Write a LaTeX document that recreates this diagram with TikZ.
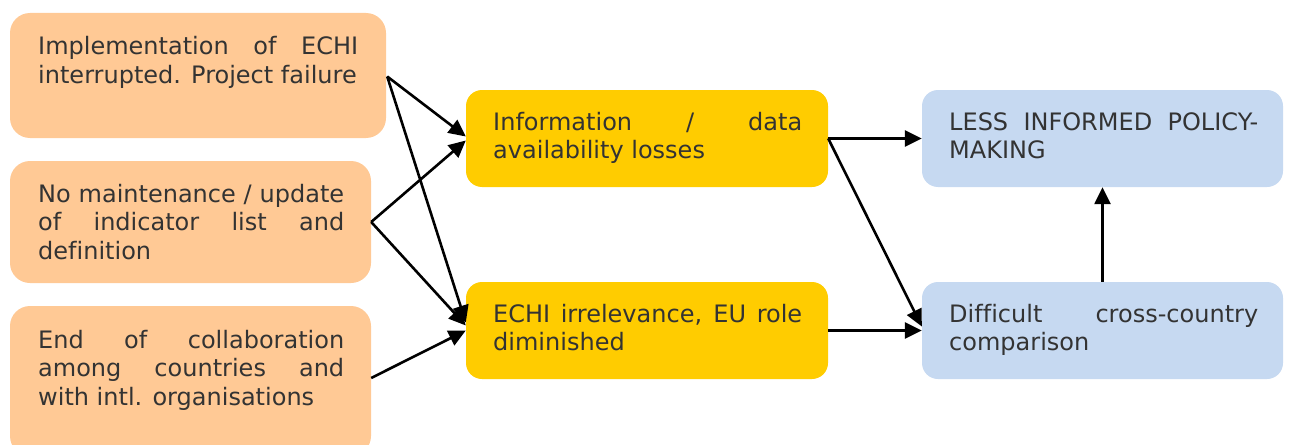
\documentclass[tikz,border=0pt]{standalone}
\usepackage{fontspec}
\setmainfont[Ligatures=NoCommon]{DejaVu Sans}
\usetikzlibrary{arrows.meta,calc}
\definecolor{orangebox}{HTML}{FFC995}
\definecolor{yellowbox}{HTML}{FFCC00}
\definecolor{bluebox}{HTML}{C6D9F1}
\definecolor{txt}{HTML}{333333}
\newcommand\boxtxt[2]{\vtop{\hsize=#1\relax\parindent=0pt\tolerance=10000\hbadness=10000\hyphenpenalty=10000\exhyphenpenalty=50\noindent #2\par}}
\tikzset{
  x=1pt, y=-1pt,
  orng/.style={fill=orangebox, draw=none, rounded corners=20pt, inner sep=0pt},
  ylw/.style={fill=yellowbox, draw=none, rounded corners=16pt, inner sep=0pt},
  blu/.style={fill=bluebox, draw=none, rounded corners=16pt, inner sep=0pt},
  lbl/.style={anchor=base west, inner sep=0pt, text=txt, font=\fontsize{24}{28.5}\selectfont},
  conn/.style={line width=2.6pt, -{Triangle[length=17pt,width=16pt]}}
}
\begin{document}
\begin{tikzpicture}
\useasboundingbox (0,0) rectangle (1289,444);
\clip (0,0) rectangle (1289,444);
% boxes
\path[orng] (10,13) rectangle (386,138);
\node[minimum width=376pt, minimum height=125pt, inner sep=0pt] (o1) at (198,75.5) {};
\path[orng] (10,161) rectangle (371,283);
\node[minimum width=361pt, minimum height=122pt, inner sep=0pt] (o2) at (190.5,222) {};
\path[orng] (10,306) rectangle (371,456);
\node[minimum width=361pt, minimum height=144pt, inner sep=0pt] (o3) at (190.5,378) {};
\path[ylw] (466,90) rectangle (828,187);
\node[minimum width=362pt, minimum height=97pt, inner sep=0pt] (y1) at (647,138.5) {};
\path[ylw] (466,282) rectangle (828,379);
\node[minimum width=362pt, minimum height=97pt, inner sep=0pt] (y2) at (647,330.5) {};
\path[blu] (922,90) rectangle (1283,187);
\node[minimum width=361pt, minimum height=97pt, inner sep=0pt] (b1) at (1102.5,138.5) {};
\path[blu] (922,282) rectangle (1283,379);
\node[minimum width=361pt, minimum height=97pt, inner sep=0pt] (b2) at (1102.5,330.5) {};
% texts
\node[lbl] (t1) at (38,55) {\boxtxt{320pt}{Implementation of ECHI\linebreak interrupted. Project failure}};
\node[lbl] (t2) at (38,202) {\boxtxt{306pt}{No maintenance / update\linebreak of indicator list and\linebreak definition}};
\node[lbl] (t3) at (38,348) {\boxtxt{306pt}{End of collaboration\linebreak among countries and\linebreak with intl. organisations}};
\node[lbl] (t4) at (493,130) {\boxtxt{309pt}{Information / data\linebreak availability losses}};
\node[lbl] (t5) at (493,322) {\boxtxt{309pt}{ECHI irrelevance, EU role\linebreak diminished}};
\node[lbl] (t6) at (949,130) {\boxtxt{309pt}{LESS INFORMED POLICY-\linebreak MAKING}};
\node[lbl] (t7) at (949,322) {\boxtxt{309pt}{Difficult cross-country\linebreak comparison}};
% connectors
\coordinate (o1r) at ($(o1.east)+(1,1)$);
\draw[conn] (o1r) -- ($(y1.west)+(0,-2)$);
\draw[conn] (o1r) -- ($(y2.west)+(0,-8)$);
\draw[conn] (o2.east) -- ($(y1.west)+(0,2)$);
\draw[conn] (o2.east) -- ($(y2.west)+(0,-5)$);
\draw[conn] (o3.east) -- (y2.west);
\draw[conn] (y1.east) -- (b1.west);
\draw[conn] (y1.east) -- ($(b2.west)+(0,-4)$);
\draw[conn] (y2.east) -- (b2.west);
\draw[conn] (b2.north) -- (b1.south);
\end{tikzpicture}
\end{document}
